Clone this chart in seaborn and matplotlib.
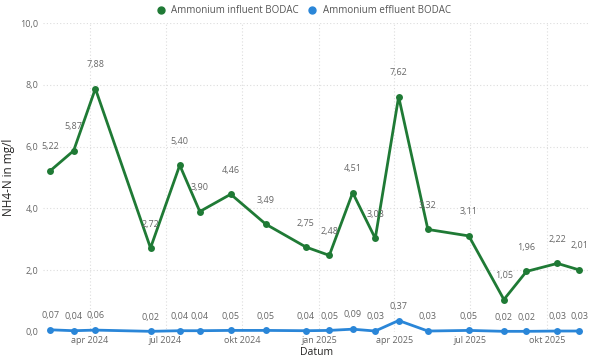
import pandas as pd
import matplotlib.pyplot as plt
import seaborn as sns

# ---------------------------
# Data
# ---------------------------
dates = ["2024-02-14", "2024-03-13", "2024-04-08", "2024-06-13", "2024-07-18",
         "2024-08-11", "2024-09-17", "2024-10-29", "2024-12-16", "2025-01-13",
         "2025-02-10", "2025-03-09", "2025-04-06", "2025-05-11", "2025-06-29",
         "2025-08-10", "2025-09-06", "2025-10-13", "2025-11-08"]
influent = [5.22, 5.87, 7.88, 2.72, 5.40, 3.90, 4.46, 3.49, 2.75, 2.48,
            4.51, 3.03, 7.62, 3.32, 3.11, 1.05, 1.96, 2.22, 2.01]
effluent = [0.07, 0.04, 0.06, 0.02, 0.04, 0.04, 0.05, 0.05, 0.04, 0.05,
            0.09, 0.03, 0.37, 0.03, 0.05, 0.02, 0.02, 0.03, 0.03]
series_names = ["Ammonium influent BODAC", "Ammonium effluent BODAC"]
tick_dates = ["2024-04-01", "2024-07-01", "2024-10-01", "2025-01-01",
              "2025-04-01", "2025-07-01", "2025-10-01"]
tick_labels = ["apr 2024", "jul 2024", "okt 2024", "jan 2025",
               "apr 2025", "jul 2025", "okt 2025"]
y_ticks = [0, 2, 4, 6, 8, 10]

colors = {series_names[0]: "#1f7a35", series_names[1]: "#2a86d8"}

df = pd.DataFrame({
    "datum": pd.to_datetime(dates * 2),
    "waarde": influent + effluent,
    "serie": [series_names[0]] * len(dates) + [series_names[1]] * len(dates),
})

sns.set_style("white")
plt.rcParams['font.family'] = ['Open Sans', 'DejaVu Sans']

fig = plt.figure(figsize=(6.02, 3.62), dpi=100)
ax = fig.add_axes([0.071, 0.083, 0.909, 0.853])

sns.lineplot(data=df, x="datum", y="waarde", hue="serie", palette=colors,
             marker="o", markersize=5, markeredgewidth=0, linewidth=2,
             ax=ax, legend=False, clip_on=False)

# data labels
for name, vals, off in [(series_names[0], influent, 14), (series_names[1], effluent, 7)]:
    for d, v in zip(pd.to_datetime(dates), vals):
        ax.annotate(f"{v:.2f}".replace(".", ","), (d, v), xytext=(0, off),
                    textcoords="offset points", ha="center", va="bottom",
                    fontsize=6.5, color="#666666")

ax.set_xlim(pd.Timestamp("2024-02-05"), pd.Timestamp("2025-11-21"))
ax.set_ylim(0, 10)
ax.set_xticks(pd.to_datetime(tick_dates))
ax.set_xticklabels(tick_labels)
ax.set_yticks(y_ticks)
ax.set_yticklabels([f"{t:.1f}".replace(".", ",") for t in y_ticks])
ax.tick_params(axis="both", labelsize=6.5, colors="#666666", length=0, pad=3)

ax.grid(True, color="#dddddd", linestyle=(0, (1, 2)), linewidth=0.8)
for s in ax.spines.values():
    s.set_visible(False)

ax.set_xlabel("Datum", fontsize=7.5, color="#252423", labelpad=1)
ax.set_ylabel("NH4-N in mg/l", fontsize=8.5, color="#252423", labelpad=4)

# legend
handles = [plt.Line2D([], [], marker="o", linestyle="", color=colors[n], markersize=5)
           for n in series_names]
fig.legend(handles, series_names, loc="upper center", bbox_to_anchor=(0.5, 1.01),
           ncol=2, frameon=False, fontsize=7, handletextpad=0.1, columnspacing=0.4,
           labelcolor="#555555")

plt.savefig("out.png", dpi=100)
plt.close()
